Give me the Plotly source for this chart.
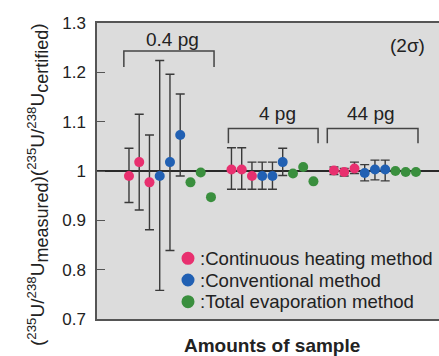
import plotly.graph_objects as go

# ---------------- data ----------------
group_labels = ["0.4 pg", "4 pg", "44 pg"]
series_names = [":Continuous heating method", ":Conventional method", ":Total evaporation method"]
y_ticks = [0.7, 0.8, 0.9, 1.0, 1.1, 1.2, 1.3]
y_tick_text = ["0.7", "0.8", "0.9", "1", "1.1", "1.2", "1.3"]

cont_x = [0, 1, 2, 10, 11, 12, 20, 21, 22]
cont_y = [0.990, 1.018, 0.977, 1.003, 1.003, 0.990, 1.001, 0.998, 1.005]
cont_hi = [1.046, 1.115, 1.073, 1.047, 1.047, 1.018, 1.008, 1.005, 1.018]
cont_lo = [0.936, 0.921, 0.881, 0.963, 0.963, 0.963, 0.993, 0.990, 0.995]

conv_x = [3, 4, 5, 13, 14, 15, 23, 24, 25]
conv_y = [0.990, 1.018, 1.073, 0.990, 0.990, 1.018, 0.996, 1.003, 1.003]
conv_hi = [1.224, 1.196, 1.156, 1.018, 1.018, 1.046, 1.013, 1.022, 1.022]
conv_lo = [0.758, 0.839, 0.990, 0.963, 0.963, 0.991, 0.980, 0.982, 0.980]

tot_x = [6, 7, 8, 16, 17, 18, 26, 27, 28]
tot_y = [0.977, 0.997, 0.947, 0.995, 1.008, 0.979, 1.000, 0.998, 0.998]

# ---------------- style ----------------
FONT = "Liberation Sans, Arial, sans-serif"
PINK = "#e8306f"
BLUE = "#2160b3"
GREEN = "#3a8f3e"
ERR = "#3a3a3a"
TXT = "#222222"
colors = [PINK, BLUE, GREEN]

fig = go.Figure()


def add_series(x, y, hi, lo, color, name):
    err = None
    if hi is not None:
        err = dict(type="data", symmetric=False,
                   array=[h - v for h, v in zip(hi, y)],
                   arrayminus=[v - l for v, l in zip(y, lo)],
                   color=ERR, thickness=1.4, width=4.5)
    fig.add_trace(go.Scatter(
        x=x, y=y, mode="markers", name=name, showlegend=False,
        marker=dict(color=color, size=10, line=dict(width=0)),
        error_y=err))


add_series(cont_x, cont_y, cont_hi, cont_lo, PINK, series_names[0])
add_series(conv_x, conv_y, conv_hi, conv_lo, BLUE, series_names[1])
add_series(tot_x, tot_y, None, None, GREEN, series_names[2])

# reference line at 1
fig.add_shape(type="line", xref="paper", x0=0, x1=1, yref="y", y0=1, y1=1,
              line=dict(color="#2a2a2a", width=2), layer="below")

# group brackets
brackets = [(-0.5, 8.3, 1.243, 1.211), (9.7, 18.45, 1.086, 1.056), (19.35, 28.2, 1.086, 1.056)]
label_pos = [(4.2, 1.266), (14.45, 1.117), (23.6, 1.117)]
for (x0, x1, ytop, ybot), lab, (lx, ly) in zip(brackets, group_labels, label_pos):
    fig.add_shape(type="path", xref="x", yref="y",
                  path=f"M {x0},{ybot} L {x0},{ytop} L {x1},{ytop} L {x1},{ybot}",
                  line=dict(color="#444444", width=1.5))
    fig.add_annotation(x=lx, y=ly, xref="x", yref="y", text=lab, showarrow=False,
                       font=dict(family=FONT, size=19, color=TXT))

fig.add_annotation(x=27.2, y=1.255, xref="x", yref="y", text="(2σ)", showarrow=False,
                   font=dict(family=FONT, size=19, color=TXT))

# manual legend (paper coords): plot area is x 97..439, y 23..319 px
PW, PH = 342.0, 296.0
leg_rows_px = [258.3, 280.0, 301.7]
for name, col, ypx in zip(series_names, colors, leg_rows_px):
    yp = (319 - ypx) / PH
    xp = (188 - 97) / PW
    fig.add_shape(type="circle", xref="paper", yref="paper", xsizemode="pixel",
                  ysizemode="pixel", xanchor=xp, yanchor=yp, x0=-6.5, x1=6.5,
                  y0=-6.5, y1=6.5, fillcolor=col, line=dict(width=0))
    fig.add_annotation(xref="paper", yref="paper", x=(198 - 97) / PW, y=yp,
                       xanchor="left", yanchor="middle", text=name, showarrow=False,
                       font=dict(family=FONT, size=18.6, color=TXT))

# axis titles
sup = lambda s: f"<sup>{s}</sup>"
ytitle = ("(" + sup("235") + "U/" + sup("238") + "U" +
          "<sub><span style='font-size:18px'>measured</span></sub>" + ")(" +
          sup("235") + "U/" + sup("238") + "U" +
          "<sub><span style='font-size:18px'>certified</span></sub>" + ")")
fig.add_annotation(xref="paper", yref="paper", x=(38 - 97) / PW, y=(319 - 185) / PH,
                   text=ytitle, textangle=-90, showarrow=False,
                   xanchor="center", yanchor="middle",
                   font=dict(family=FONT, size=19, color=TXT))
fig.add_annotation(xref="paper", yref="paper", x=(272 - 97) / PW, y=(319 - 345) / PH,
                   xanchor="center", yanchor="middle",
                   text="<b>Amounts of sample</b>", showarrow=False,
                   font=dict(family=FONT, size=19, color=TXT))

fig.update_layout(
    width=439, height=356,
    margin=dict(l=97, r=0, t=23, b=37, autoexpand=False),
    paper_bgcolor="white", plot_bgcolor="#dcdcdc",
    font=dict(family=FONT, size=17, color=TXT),
    showlegend=False,
    xaxis=dict(range=[-3.12, 30.25], showgrid=False, zeroline=False,
               showticklabels=False, ticks="", showline=True, mirror=True,
               linecolor="#555555", linewidth=1.5, automargin=False),
    yaxis=dict(range=[0.7, 1.3], tickvals=y_ticks, ticktext=y_tick_text,
               showgrid=False, zeroline=False, ticks="inside", ticklen=8,
               tickcolor="#555555", tickwidth=1.2, showline=True,
               linecolor="#555555", linewidth=1.5, ticklabelstandoff=6,
               automargin=False,
               tickfont=dict(family=FONT, size=17, color=TXT)),
    yaxis2=dict(range=[0.7, 1.3], overlaying="y", side="right", tickvals=y_ticks,
                showticklabels=False, showgrid=False, zeroline=False,
                ticks="inside", ticklen=8, tickcolor="#555555", tickwidth=1.2,
                showline=False, automargin=False),
)

fig.write_html("out.html", config={"displayModeBar": False},
               post_script="document.body.style.margin='0px';document.body.style.overflow='hidden';")
